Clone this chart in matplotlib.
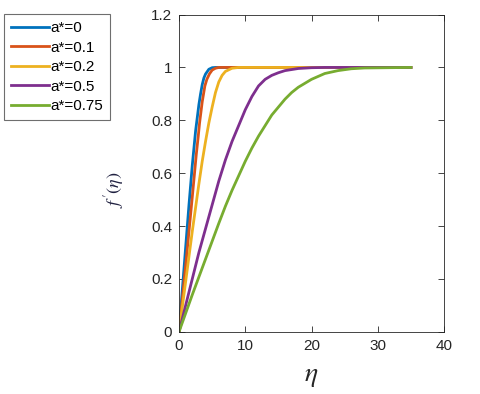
import matplotlib
matplotlib.use("Agg")
import matplotlib.pyplot as plt

plt.rcParams['font.family'] = ['Liberation Sans', 'DejaVu Sans']
plt.rcParams['mathtext.fontset'] = 'stix'

labels = ['a*=0', 'a*=0.1', 'a*=0.2', 'a*=0.5', 'a*=0.75']
colors = ['#0072BD', '#D95319', '#EDB120', '#7E2F8E', '#77AC30']

# values (eta, f')
eta_0 = [0, 0.5, 1.0, 1.5, 2.0, 2.5, 2.75, 3.0, 3.25, 3.5, 3.75, 4.0, 4.5, 5.0, 5.5, 35]
fp_0 = [0, 0.16, 0.32, 0.48, 0.63, 0.76, 0.81, 0.86, 0.90, 0.935, 0.96, 0.975, 0.993, 0.999, 1.0, 1.0]

eta_1 = [0, 1.0, 2.0, 2.6, 2.9, 3.1, 3.3, 3.5, 3.7, 3.9, 4.2, 4.6, 5.0, 5.5, 6.0, 35]
fp_1 = [0, 0.25, 0.51, 0.67, 0.74, 0.79, 0.83, 0.87, 0.90, 0.93, 0.955, 0.976, 0.99, 0.997, 1.0, 1.0]

eta_2 = [0, 1.0, 2.0, 3.0, 3.5, 4.0, 4.5, 5.0, 5.5, 6.0, 6.5, 7.0, 8.0, 9.0, 10.0, 35]
fp_2 = [0, 0.19, 0.38, 0.56, 0.645, 0.72, 0.79, 0.85, 0.905, 0.945, 0.97, 0.985, 0.997, 1.0, 1.0, 1.0]

eta_5 = [0, 1, 2, 3, 4, 5, 6, 7, 8, 9, 10, 11, 12, 13, 14, 15, 16, 18, 20, 22, 35]
fp_5 = [0, 0.10, 0.20, 0.30, 0.39, 0.48, 0.57, 0.65, 0.72, 0.78, 0.84, 0.89, 0.93, 0.955,
        0.97, 0.98, 0.988, 0.996, 0.999, 1.0, 1.0]

eta_75 = [0, 2, 4, 6, 7, 8, 9, 10, 11, 12, 13, 14, 15, 16, 17, 18, 20, 22, 24, 26, 28, 35]
fp_75 = [0, 0.14, 0.275, 0.41, 0.475, 0.535, 0.59, 0.645, 0.695, 0.74, 0.78, 0.82, 0.85,
         0.88, 0.905, 0.925, 0.955, 0.977, 0.988, 0.995, 0.998, 1.0]

series = [(eta_0, fp_0), (eta_1, fp_1), (eta_2, fp_2), (eta_5, fp_5), (eta_75, fp_75)]

fig = plt.figure(figsize=(4.8, 3.94), dpi=100)
ax = fig.add_axes([0.373, 0.158, 0.552, 0.805])

for (x, y), c, lab in zip(series, colors, labels):
    ax.plot(x, y, color=c, lw=2, label=lab, solid_joinstyle='round')

ax.set_xlim(0, 40)
ax.set_ylim(0, 1.2)
ax.set_xticks([0, 10, 20, 30, 40])
ax.set_yticks([0, 0.2, 0.4, 0.6, 0.8, 1.0, 1.2])
ax.set_yticklabels(['0', '0.2', '0.4', '0.6', '0.8', '1', '1.2'])
ax.tick_params(direction='in', length=4, width=0.6, top=True, right=True,
               labelsize=11, colors='#262626', pad=5)
for side in ["left", "top", "bottom", "right"]:
    ax.spines[side].set_color('#262626')
    ax.spines[side].set_linewidth(0.6)

ax.set_xlabel(r'$\eta$', fontsize=20, color='#262626')
ax.xaxis.set_label_coords(0.5, -0.1)
ax.set_ylabel(r"$f\,'(\eta)$", fontsize=13, color='#1f2040')
ax.yaxis.set_label_coords(-0.2, 0.447)

leg = fig.legend(loc='upper left', bbox_to_anchor=(0.008, 0.964),
                 borderaxespad=0, fontsize=11, handlelength=2.5,
                 handletextpad=0.1, labelspacing=0.36, borderpad=0.45,
                 fancybox=False, framealpha=1, edgecolor='#6e6e6e')
leg.get_frame().set_linewidth(0.8)

fig.savefig('out.png', dpi=100, facecolor='white')
